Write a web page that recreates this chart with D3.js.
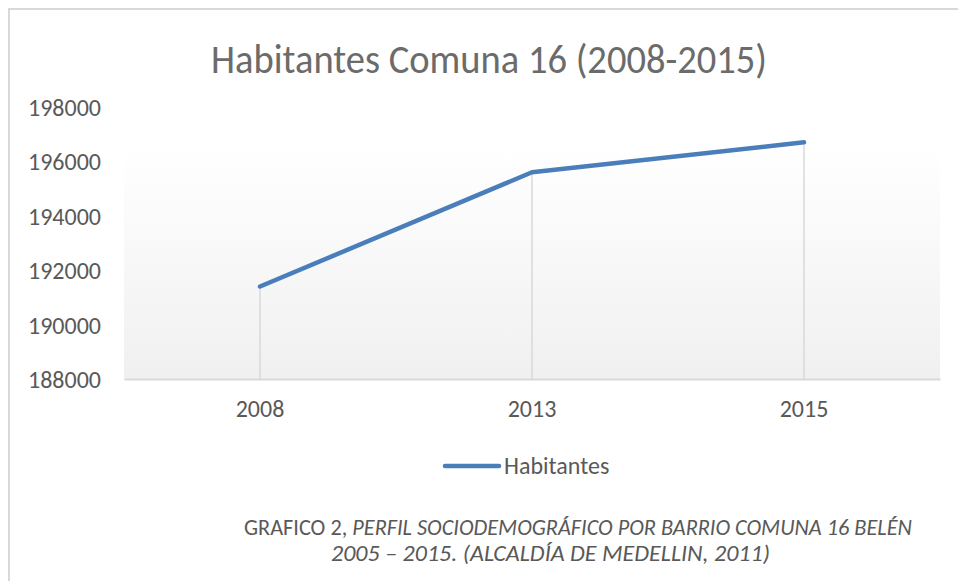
<!DOCTYPE html>
<html>
<head>
<meta charset="utf-8">
<script src="https://cdn.jsdelivr.net/npm/d3@7/dist/d3.min.js"></script>
<style>
  body { margin: 0; background: #fff; }
  svg text { font-family: Carlito, Lato, "Open Sans", sans-serif; fill: #595959; }
</style>
</head>
<body>
<div id="chart"></div>
<script>
var years = ['2008', '2013', '2015'];
var habitantes = [191400, 195600, 196700];
var yTicks = [188000, 190000, 192000, 194000, 196000, 198000];
var seriesName = 'Habitantes';
var title = 'Habitantes Comuna 16 (2008-2015)';
var captionNormal = 'GRAFICO 2, ';
var captionItalic1 = 'PERFIL SOCIODEMOGRÁFICO POR BARRIO COMUNA 16 BELÉN';
var captionItalic2 = '2005 – 2015. (ALCALDÍA DE MEDELLIN, 2011)';

var W = 958, H = 581;
var margin = {top: 107, right: 18, bottom: 202, left: 124};
var width = W - margin.left - margin.right;
var height = H - margin.top - margin.bottom;

var svg = d3.select('#chart').append('svg')
    .attr('width', W)
    .attr('height', H);

// chart frame (only top and left edges show)
svg.append('path')
    .attr('d', 'M9,' + H + 'V9H' + W)
    .attr('fill', 'none')
    .attr('stroke', '#d9d9d9')
    .attr('stroke-width', 2);

var grad = svg.append('defs').append('linearGradient')
    .attr('id', 'plotFill')
    .attr('x1', 0).attr('y1', 0).attr('x2', 0).attr('y2', 1);
grad.append('stop').attr('offset', '0%').attr('stop-color', '#ffffff');
grad.append('stop').attr('offset', '15%').attr('stop-color', '#ffffff');
grad.append('stop').attr('offset', '100%').attr('stop-color', '#f0f0f0');

svg.append('text')
    .attr('x', 489)
    .attr('y', 73)
    .attr('text-anchor', 'middle')
    .attr('textLength', 556)
    .attr('lengthAdjust', 'spacingAndGlyphs')
    .style('font-size', '40px')
    .style('fill', '#6b6b6b')
    .text(title);

var g = svg.append('g')
    .attr('transform', 'translate(' + margin.left + ',' + margin.top + ')');

var x = d3.scaleBand().domain(years).range([0, width]);
var y = d3.scaleLinear().domain([188000, 198000]).range([height, 0]);

g.append('rect')
    .attr('width', width)
    .attr('height', height)
    .attr('fill', 'url(#plotFill)');

// y labels
var yAxis = g.append('g')
    .call(d3.axisLeft(y).tickValues(yTicks).tickSize(0).tickPadding(23).tickFormat(d3.format('d')));
yAxis.select('.domain').remove();
yAxis.selectAll('text')
    .style('font-size', '24px')
    .attr('dy', '0.35em');

// drop lines
g.selectAll('.drop')
    .data(habitantes)
    .enter().append('line')
    .attr('class', 'drop')
    .attr('x1', function(d, i) { return x(years[i]) + x.bandwidth() / 2; })
    .attr('x2', function(d, i) { return x(years[i]) + x.bandwidth() / 2; })
    .attr('y1', function(d) { return y(d); })
    .attr('y2', height)
    .attr('stroke', '#d9d9d9')
    .attr('stroke-width', 1.5);

// x axis
var xAxis = g.append('g')
    .attr('transform', 'translate(0,' + height + ')')
    .call(d3.axisBottom(x).tickSize(0).tickPadding(21));
xAxis.select('.domain')
    .attr('stroke', '#d9d9d9')
    .attr('stroke-width', 1.8);
xAxis.selectAll('text')
    .style('font-size', '24px');

var line = d3.line()
    .x(function(d, i) { return x(years[i]) + x.bandwidth() / 2; })
    .y(function(d) { return y(d); });

g.append('path')
    .datum(habitantes)
    .attr('fill', 'none')
    .attr('stroke', '#4a7ebb')
    .attr('stroke-width', 4.5)
    .attr('stroke-linecap', 'round')
    .attr('stroke-linejoin', 'round')
    .attr('d', line);

// legend
var legend = svg.append('g').attr('transform', 'translate(445,466)');
legend.append('line')
    .attr('x1', 0).attr('x2', 54)
    .attr('stroke', '#4a7ebb')
    .attr('stroke-width', 4.5)
    .attr('stroke-linecap', 'round');
legend.append('text')
    .attr('x', 59)
    .attr('y', 8)
    .style('font-size', '24px')
    .text(seriesName);

// caption
var cap1 = svg.append('text')
    .attr('x', 244)
    .attr('y', 535)
    .attr('textLength', 668)
    .attr('lengthAdjust', 'spacingAndGlyphs')
    .style('font-size', '23px');
cap1.append('tspan').text(captionNormal);
cap1.append('tspan').style('font-style', 'italic').text(captionItalic1);

svg.append('text')
    .attr('x', 331)
    .attr('y', 561)
    .attr('textLength', 439)
    .attr('lengthAdjust', 'spacingAndGlyphs')
    .style('font-size', '23px')
    .style('font-style', 'italic')
    .text(captionItalic2);
</script>
</body>
</html>
